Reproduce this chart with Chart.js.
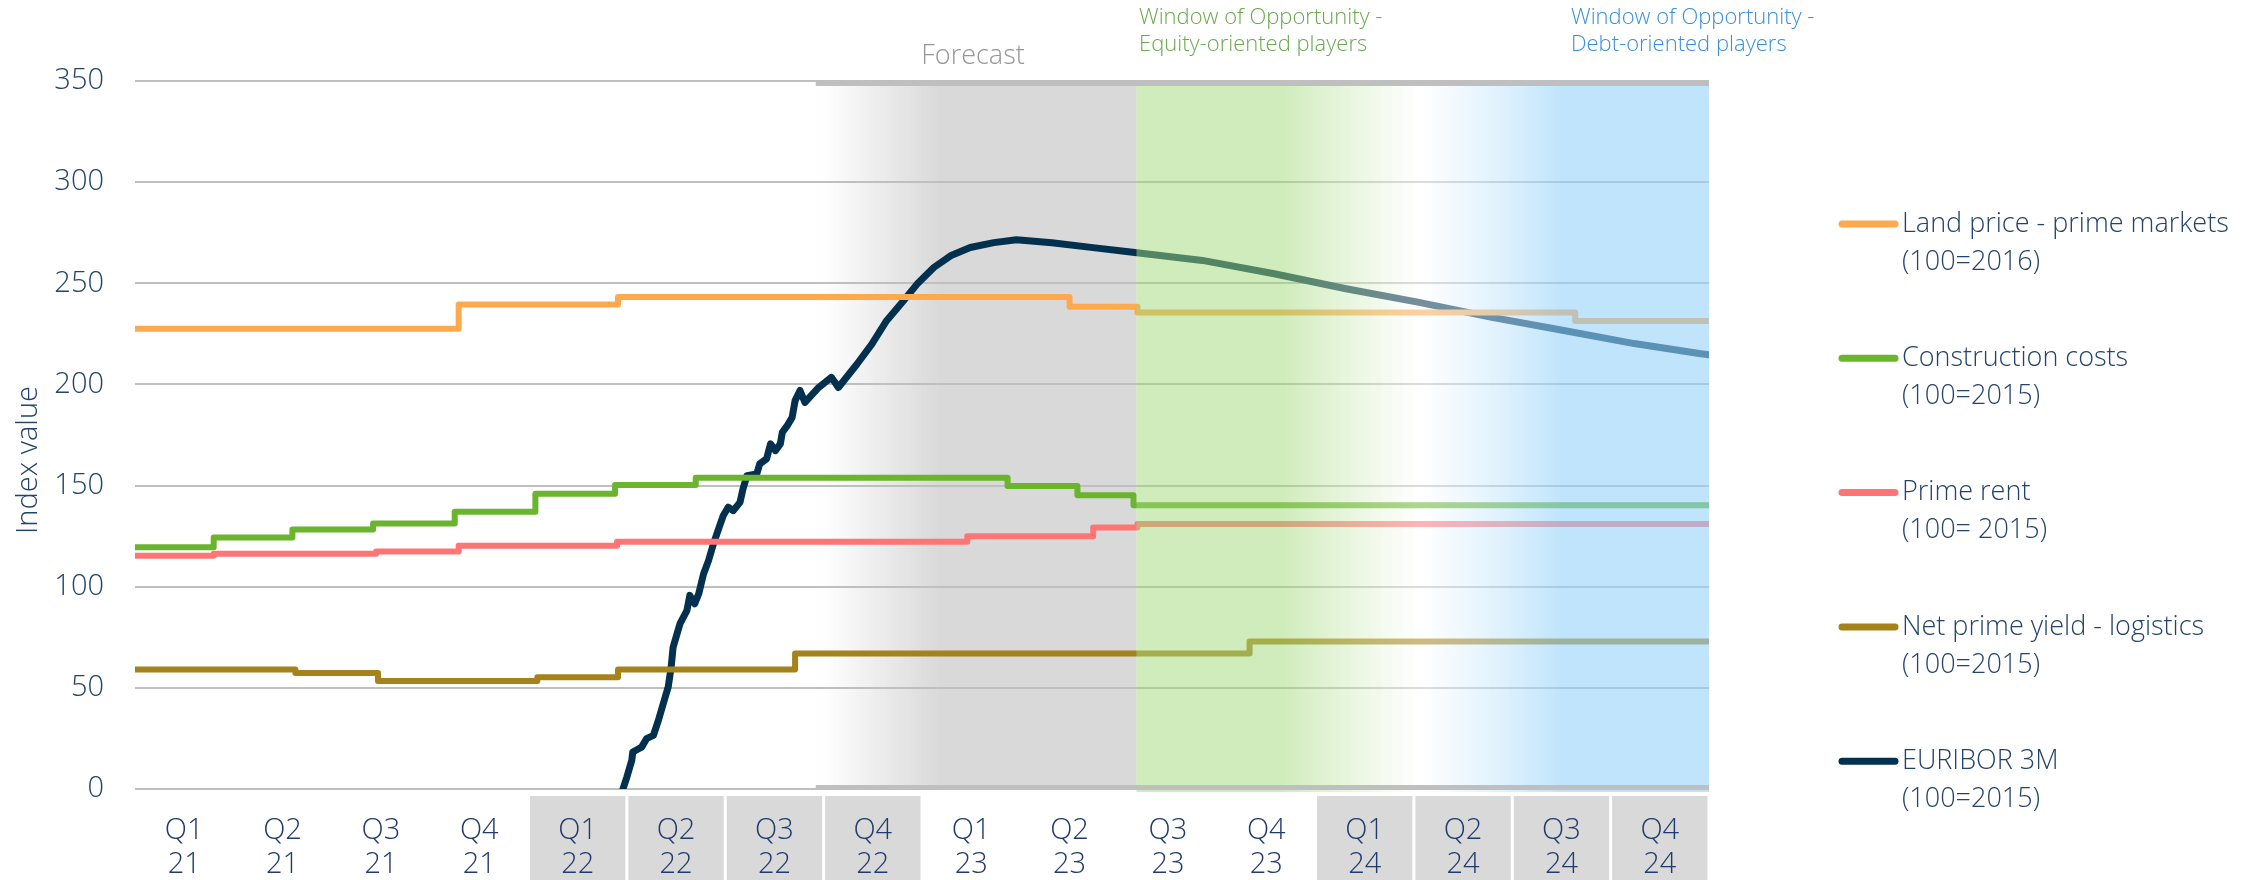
<!DOCTYPE html>
<html>
<head>
<meta charset="utf-8">
<script src="https://cdn.jsdelivr.net/npm/chart.js@4.4.1/dist/chart.umd.min.js"></script>
<style>
  html, body { margin: 0; padding: 0; background: #fff; }
  #wrap { width: 2259px; height: 880px; }
</style>
</head>
<body>
<div id="wrap"><canvas id="chart" width="2259" height="880"></canvas></div>
<script>
// quarter axis: Q1 21 starts at 0, each quarter is 1 unit wide
var tickLabels = [
  ['Q1','21'],['Q2','21'],['Q3','21'],['Q4','21'],
  ['Q1','22'],['Q2','22'],['Q3','22'],['Q4','22'],
  ['Q1','23'],['Q2','23'],['Q3','23'],['Q4','23'],
  ['Q1','24'],['Q2','24'],['Q3','24'],['Q4','24']
];
var shadedYears = ['22', '24'];

// step series: x = where the new value starts, y = index value
var landX = [0, 3.29, 4.91, 9.50, 10.19, 14.64, 16];
var landY = [227.5, 239.5, 243.2, 238.4, 235.5, 231.3, 231.3];

var costsX = [0, 0.80, 1.60, 2.42, 3.25, 4.07, 4.88, 5.70, 8.87, 9.58, 10.15, 16];
var costsY = [119.5, 124.3, 128.3, 131.2, 137.0, 146.0, 150.3, 153.9, 149.8, 145.2, 140.3, 140.3];

var rentX = [0, 0.80, 2.45, 3.29, 4.90, 8.46, 9.74, 10.19, 16];
var rentY = [115.3, 116.3, 117.4, 120.2, 122.2, 125.0, 129.3, 131.0, 131.0];

var yieldX = [0, 1.63, 2.47, 4.09, 4.91, 6.71, 11.33, 16];
var yieldY = [59.1, 57.3, 53.4, 55.2, 59.1, 67.0, 72.9, 72.9];

var euriborX = [4.96, 5.00, 5.05, 5.06, 5.12, 5.15, 5.20, 5.27, 5.32, 5.37, 5.42, 5.45, 5.47, 5.51,
  5.54, 5.61, 5.64, 5.69, 5.73, 5.78, 5.83, 5.88, 5.95, 5.98, 6.03, 6.08, 6.15, 6.18, 6.22, 6.32,
  6.35, 6.42, 6.46, 6.51, 6.56, 6.58, 6.63, 6.68, 6.71, 6.76, 6.81, 6.95, 7.08, 7.15, 7.34, 7.49,
  7.64, 7.81, 7.95, 8.12, 8.29, 8.49, 8.73, 8.96, 9.32, 9.76, 10.12, 10.85, 11.58, 12.31, 13.04,
  13.78, 14.51, 15.24, 15.90, 16];
var euriborY = [0, 5.9, 14.2, 18.3, 19.9, 20.7, 24.9, 26.5, 33.9, 42.2, 50.4, 60.2, 70.1, 76.7,
  81.7, 88.2, 95.7, 91.6, 96.5, 106.4, 112.9, 121.2, 131.1, 135.2, 139.3, 137.6, 141.7, 148.3, 154.9, 155.7,
  160.7, 163.2, 170.6, 167.3, 170.6, 176.3, 179.6, 183.7, 192.0, 197.0, 191.1, 198.5, 203.5, 198.5, 210.1, 219.9,
  231.5, 241.3, 249.6, 257.8, 263.6, 267.7, 270.1, 271.5, 270.0, 267.5, 265.5, 261.3, 254.7, 247.3, 240.7,
  233.3, 226.8, 220.2, 215.3, 214.7];

var seriesLabels = [
  ['Land price - prime markets', '(100=2016)'],
  ['Construction costs', '(100=2015)'],
  ['Prime rent', '(100= 2015)'],
  ['Net prime yield - logistics', '(100=2015)'],
  ['EURIBOR 3M', '(100=2015)']
];
var seriesColors = ['#ffa94d', '#6ab42e', '#ff7575', '#a6821a', '#03304f'];

var navy = '#24436b';
var FONT = "'Open Sans', 'DejaVu Sans', sans-serif";

// shaded regions in quarter units
var forecastStart = 6.92, forecastFull = 8.18;
var windowStart = 10.18, windowGreenEnd = 11.66, windowWhite = 13.05, windowBlueStart = 14.51;

function pts(xs, ys) {
  return xs.map(function (x, i) { return { x: x, y: ys[i] }; });
}

var backgroundPlugin = {
  id: 'regions',
  beforeDraw: function (chart) {
    var ctx = chart.ctx, a = chart.chartArea, xs = chart.scales.x;
    ctx.save();
    // label boxes for 2022 and 2024
    tickLabels.forEach(function (l, i) {
      if (shadedYears.indexOf(l[1]) < 0) return;
      var x0 = xs.getPixelForValue(i), x1 = xs.getPixelForValue(i + 1);
      ctx.fillStyle = '#d9d9d9';
      ctx.fillRect(x0 + 1.5, a.bottom + 7, x1 - x0 - 3, chart.height - a.bottom - 7);
    });
    // forecast grey
    var f0 = xs.getPixelForValue(forecastStart), f1 = xs.getPixelForValue(forecastFull),
        w0 = xs.getPixelForValue(windowStart);
    var g = ctx.createLinearGradient(f0, 0, f1, 0);
    g.addColorStop(0, 'rgba(217,217,217,0)');
    g.addColorStop(0.1, 'rgba(217,217,217,0.05)');
    g.addColorStop(1, 'rgba(217,217,217,1)');
    ctx.fillStyle = g;
    ctx.fillRect(f0, a.top + 5, w0 - f0, a.bottom - a.top - 9);
    ctx.restore();
  },
  afterDatasetsDraw: function (chart) {
    var ctx = chart.ctx, a = chart.chartArea, xs = chart.scales.x;
    ctx.save();
    var w0 = xs.getPixelForValue(windowStart), w1 = xs.getPixelForValue(windowGreenEnd),
        w2 = xs.getPixelForValue(windowWhite), w3 = xs.getPixelForValue(windowBlueStart);
    var span = a.right - w0;
    var g = ctx.createLinearGradient(w0, 0, a.right, 0);
    g.addColorStop(0, 'rgba(161,217,121,0.5)');
    g.addColorStop((w1 - w0) / span, 'rgba(161,217,121,0.5)');
    g.addColorStop((w2 - w0) / span, 'rgba(255,255,255,0.45)');
    g.addColorStop((w3 - w0) / span, 'rgba(150,210,250,0.6)');
    g.addColorStop(1, 'rgba(150,210,250,0.6)');
    ctx.fillStyle = g;
    ctx.fillRect(w0, a.top - 1, a.right - w0, a.bottom - a.top + 4);
    // forecast frame bars
    var f0 = xs.getPixelForValue(forecastStart);
    ctx.fillStyle = '#bfbfbf';
    ctx.fillRect(f0, a.top - 1, a.right - f0, 6);
    ctx.fillRect(f0, a.bottom - 4, a.right - f0, 5);
    ctx.restore();
  },
  afterDraw: function (chart) {
    var ctx = chart.ctx;
    ctx.save();
    // legend
    chart.data.datasets.forEach(function (ds, i) {
      var y = 224 + i * 134.3;
      ctx.strokeStyle = ds.borderColor;
      ctx.lineWidth = 7;
      ctx.lineCap = 'round';
      ctx.beginPath();
      ctx.moveTo(1842, y);
      ctx.lineTo(1895, y);
      ctx.stroke();
      ctx.fillStyle = navy;
      ctx.font = '300 27px ' + FONT;
      ctx.textBaseline = 'middle';
      ctx.textAlign = 'left';
      ctx.fillText(ds.label[0], 1902, y);
      ctx.fillText(ds.label[1], 1902, y + 38);
    });
    // axis title
    ctx.save();
    ctx.translate(37, 460);
    ctx.rotate(-Math.PI / 2);
    ctx.textAlign = 'center';
    ctx.textBaseline = 'alphabetic';
    ctx.fillStyle = navy;
    ctx.font = '300 29px ' + FONT;
    ctx.fillText('Index value', 0, 0);
    ctx.restore();
    // region captions
    ctx.textBaseline = 'middle';
    ctx.textAlign = 'center';
    ctx.fillStyle = '#969696';
    ctx.font = '300 27px ' + FONT;
    ctx.fillText('Forecast', 973, 56);
    ctx.textAlign = 'left';
    ctx.font = '300 22px ' + FONT;
    ctx.fillStyle = '#6aa84f';
    ctx.fillText('Window of Opportunity -', 1139, 18);
    ctx.fillText('Equity-oriented players', 1139, 45);
    ctx.fillStyle = '#3a8fd6';
    ctx.fillText('Window of Opportunity -', 1571, 18);
    ctx.fillText('Debt-oriented players', 1571, 45);
    ctx.restore();
  }
};

var stepped = [
  [landX, landY], [costsX, costsY], [rentX, rentY], [yieldX, yieldY]
];
var datasets = stepped.map(function (s, i) {
  return {
    label: seriesLabels[i],
    data: pts(s[0], s[1]),
    borderColor: seriesColors[i],
    borderWidth: 6,
    stepped: 'before',
    pointRadius: 0,
    borderCapStyle: 'round',
    borderJoinStyle: 'round',
    fill: false
  };
});
datasets.push({
  label: seriesLabels[4],
  data: pts(euriborX, euriborY),
  borderColor: seriesColors[4],
  borderWidth: 7,
  pointRadius: 0,
  tension: 0,
  borderCapStyle: 'round',
  borderJoinStyle: 'round',
  fill: false
});

var ctx = document.getElementById('chart');
var chart = new Chart(ctx, {
  type: 'line',
  data: { datasets: datasets },
  options: {
    responsive: false,
    animation: false,
    layout: { padding: { top: 81, right: 550, bottom: 0, left: 0 } },
    plugins: { legend: { display: false }, tooltip: { enabled: false } },
    scales: {
      x: {
        type: 'linear',
        min: 0,
        max: 16,
        grid: { display: false },
        border: { display: false },
        afterBuildTicks: function (s) {
          s.ticks = tickLabels.map(function (l, i) { return { value: i + 0.5 }; });
        },
        afterFit: function (s) { s.height = 91; },
        ticks: {
          autoSkip: false,
          maxRotation: 0,
          padding: 17,
          color: '#203a6c',
          font: { family: FONT, size: 29, weight: '300', lineHeight: 1.17 },
          callback: function (v, i) { return tickLabels[i]; }
        }
      },
      y: {
        min: 0,
        max: 350,
        grid: { color: '#bfbfbf', lineWidth: 2, drawTicks: false },
        border: { display: false },
        afterFit: function (s) { s.width = 135; },
        ticks: {
          stepSize: 50,
          padding: 31,
          color: navy,
          font: { family: FONT, size: 29, weight: '300' }
        }
      }
    }
  },
  plugins: [backgroundPlugin]
});
</script>
</body>
</html>
